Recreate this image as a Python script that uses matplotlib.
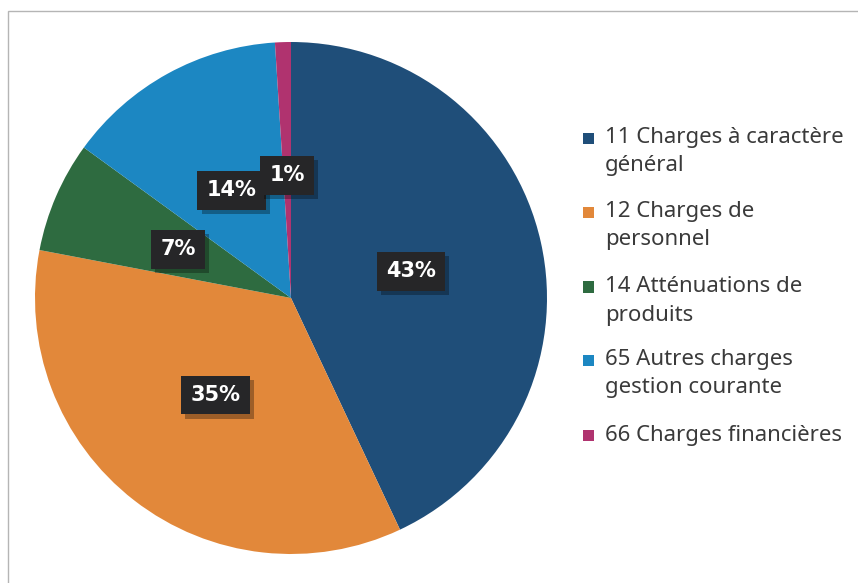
import matplotlib
matplotlib.use("Agg")
import matplotlib.pyplot as plt
from matplotlib.patches import Rectangle
import matplotlib.patheffects as pe

categories = ["11 Charges à caractère\ngénéral", "12 Charges de\npersonnel",
              "14 Atténuations de\nproduits", "65 Autres charges\ngestion courante",
              "66 Charges financières"]
values = [43, 35, 7, 14, 1]
colors = ["#1f4e79", "#e2883a", "#2e6b40", "#1c87c2", "#b0336f"]

W, H = 858, 583
fig = plt.figure(figsize=(W / 100, H / 100), dpi=100)
fig.patch.set_facecolor("white")

# outer border
fig.patches.append(Rectangle((8 / W, -0.2), 1.2, (H - 11) / H + 0.2,
                             transform=fig.transFigure, fill=False,
                             edgecolor="#b5b5b5", linewidth=1.0))

cx, cy, r = 291, 298, 256
ax = fig.add_axes([(cx - r) / W, (H - cy - r) / H, 2 * r / W, 2 * r / H])
wedges, texts, autotexts = ax.pie(values, colors=colors, startangle=90, counterclock=False,
                                  radius=1.0, autopct=lambda p: f"{p:.0f}%", pctdistance=0.48,
                                  wedgeprops=dict(linewidth=0))
ax.set_xlim(-1, 1)
ax.set_ylim(-1, 1)
ax.set_aspect("equal")
for t in autotexts:
    t.set_color("white")
    t.set_fontsize(15)
    t.set_fontweight("bold")
    t.set_family("DejaVu Sans")
    t.set_zorder(5)
    t.set_bbox(dict(boxstyle="square,pad=0.45", facecolor="#262628", edgecolor="none"))
    t.get_bbox_patch().set_path_effects([
        pe.SimplePatchShadow(offset=(3, -3), shadow_rgbFace="black", alpha=0.3),
        pe.Normal()])

# legend
ys = [138, 212, 287, 360, 435]
for lab, col, y in zip(categories, colors, ys):
    fig.patches.append(Rectangle((583 / W, (H - y - 5.5) / H), 11 / W, 11 / H,
                                 transform=fig.transFigure, facecolor=col, edgecolor="none"))
    for i, line in enumerate(lab.split("\n")):
        fig.text(605 / W, (H - y - 28 * i) / H, line, ha="left", va="center", fontsize=16,
                 family="Noto Sans", color="#3a3a3a", transform=fig.transFigure)

fig.savefig("out.png", dpi=100)
